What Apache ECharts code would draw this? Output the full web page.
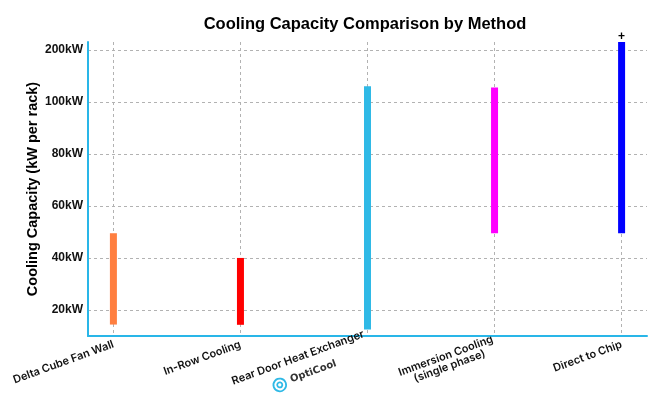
<!DOCTYPE html>
<html>
<head>
<meta charset="utf-8">
<script src="https://cdn.jsdelivr.net/npm/echarts@6/dist/echarts.min.js"></script>
<style>
  html, body { margin: 0; padding: 0; background: #fff; }
  #main { width: 656px; height: 413px; }
</style>
</head>
<body>
<div id="main"></div>
<script type="text/javascript">
// cooling methods and their kW per rack range
var categories = ['Delta Cube Fan Wall', 'In-Row Cooling', 'Rear Door Heat Exchanger', 'Immersion Cooling\n(single phase)', 'Direct to Chip'];
var lowValues = [14.4, 14.3, 12.5, 49.5, 49.5];
var highValues = [49.5, 40, 106, 105.5, 123];
var barColors = ['#ff7f40', '#ff0000', '#2fb9e6', '#ff00ff', '#0000ff'];
var yTicks = [20, 40, 60, 80, 100, 120];
var yTickLabels = ['20kW', '40kW', '60kW', '80kW', '100kW', '200kW'];
var xTicks = [0, 1, 2, 3, 4];

var rangeData = [];
for (let i = 0; i < categories.length; i++) {
    rangeData.push({
        value: [xTicks[i], lowValues[i], highValues[i]],
        itemStyle: { color: barColors[i] }
    });
}

var gridDash = { color: '#b2b2b2', type: [3, 3], width: 1 };

// floating bar from low to high
function renderRange(params, api) {
    var x = api.value(0);
    var lo = api.coord([x, api.value(1)]);
    var hi = api.coord([x, api.value(2)]);
    var w = 7;
    var children = [{
        type: 'rect',
        shape: { x: lo[0] - w / 2, y: hi[1], width: w, height: lo[1] - hi[1] },
        style: { fill: api.visual('color') }
    }];
    if (params.dataIndex === categories.length - 1) {
        children.push({
            type: 'text',
            style: {
                text: '+', x: hi[0], y: hi[1] + 1,
                align: 'center', verticalAlign: 'bottom',
                font: 'bold 12px "Liberation Sans"', fill: '#000'
            }
        });
    }
    return { type: 'group', children: children };
}

var myChart = echarts.init(document.getElementById('main'));
var option = {
    animation: false,
    title: {
        text: 'Cooling Capacity Comparison by Method',
        left: 360,
        top: 11,
        textAlign: 'center',
        textStyle: { fontFamily: 'Liberation Sans', fontWeight: 'bold', fontSize: 16.5, color: '#000' }
    },
    grid: { left: 88, right: 9, top: 42, bottom: 77 },
    xAxis: {
        type: 'value',
        min: -0.2,
        max: 4.2,
        axisLine: { show: true, onZero: false, lineStyle: { color: '#29b6e8', width: 2 } },
        axisTick: { show: false, customValues: xTicks },
        splitLine: { show: true, lineStyle: gridDash },
        axisLabel: {
            customValues: xTicks,
            rotate: 20,
            margin: 8,
            fontFamily: 'Inter',
            fontWeight: 600,
            fontSize: 11,
            color: '#111',
            formatter: function (v) {
                var name = categories[Math.round(v)];
                if (Math.round(v) === 2) {
                    return name + '\n{ic|◎}{op| OptiCool}';
                }
                if (name.indexOf('\n') >= 0) {
                    var parts = name.split('\n');
                    return parts[0] + '\n{c|' + parts[1] + '}';
                }
                return name;
            },
            rich: {
                c: { fontFamily: 'Inter', fontWeight: 600, fontSize: 11, color: '#111', align: 'center' },
                ic: { fontSize: 18, color: '#2fb9e6', fontWeight: 'bold', align: 'center', padding: [4, 0, 0, 0] },
                op: { fontFamily: 'DejaVu Sans', fontSize: 10, color: '#333', align: 'center', padding: [4, 0, 0, 0] }
            }
        }
    },
    yAxis: {
        type: 'value',
        min: 10,
        max: 123,
        name: 'Cooling Capacity (kW per rack)',
        nameLocation: 'middle',
        nameGap: 48,
        nameMoveOverlap: false,
        nameTextStyle: { fontFamily: 'Liberation Sans', fontWeight: 'bold', fontSize: 14.5, color: '#000' },
        axisLine: { show: true, onZero: false, lineStyle: { color: '#29b6e8', width: 2 } },
        axisTick: { show: false, customValues: yTicks },
        splitLine: { show: true, lineStyle: gridDash },
        axisLabel: {
            customValues: yTicks,
            margin: 5,
            fontFamily: 'Liberation Sans',
            fontWeight: 'bold',
            fontSize: 12,
            color: '#111',
            formatter: function (v) {
                return yTickLabels[yTicks.indexOf(Math.round(v))];
            }
        }
    },
    series: [
        {
            name: 'range',
            type: 'custom',
            renderItem: renderRange,
            encode: { x: 0, y: [1, 2] },
            clip: false,
            data: rangeData
        }
    ]
};
myChart.setOption(option);
</script>
</body>
</html>
